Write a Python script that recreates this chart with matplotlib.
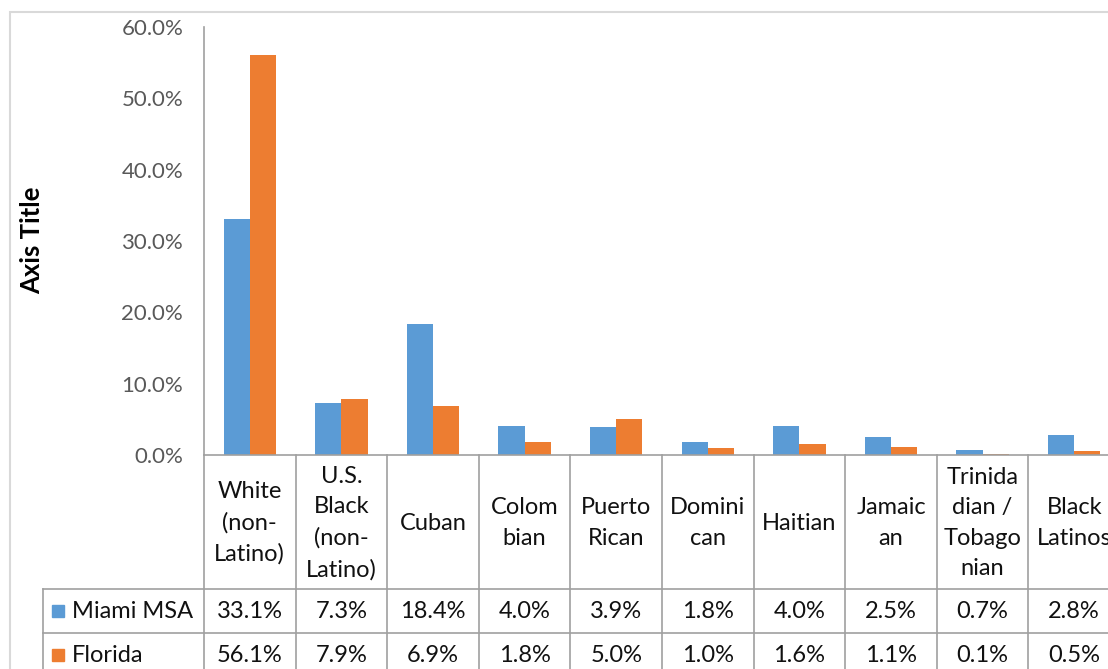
import numpy as np
import matplotlib
matplotlib.use("Agg")
import matplotlib.pyplot as plt
from matplotlib.patches import Rectangle

plt.rcParams['font.family'] = ['Lato', 'DejaVu Sans']

categories = ["White\n(non-\nLatino)", "U.S.\nBlack\n(non-\nLatino)", "Cuban", "Colom\nbian",
              "Puerto\nRican", "Domini\ncan", "Haitian", "Jamaic\nan",
              "Trinida\ndian /\nTobago\nnian", "Black\nLatinos"]
miami = [33.1, 7.3, 18.4, 4.0, 3.9, 1.8, 4.0, 2.5, 0.7, 2.8]
florida = [56.1, 7.9, 6.9, 1.8, 5.0, 1.0, 1.6, 1.1, 0.1, 0.5]
series_names = ["Miami MSA", "Florida"]
colors = ["#5B9BD5", "#ED7D31"]
y_ticks = [0, 10, 20, 30, 40, 50, 60]

W, H = 1108, 669
fig = plt.figure(figsize=(W / 100, H / 100), dpi=100)

def fx(px):
    return px / W

def fy(py):
    return 1 - py / H

# chart frame (cut off at right/bottom)
fig.add_artist(Rectangle((fx(10), fy(720)), 1200 / W, (720 - 12) / H,
                         transform=fig.transFigure, fill=False,
                         edgecolor="#D9D9D9", lw=1.5))

# plot area: 0% at y=455px, 60% at y=27px, categories 91.6px wide from x=204
ax = fig.add_axes([fx(204), fy(455), 916 / W, 428 / H])
ax.set_xlim(-0.5, 9.5)
ax.set_ylim(0, 60)

x = np.arange(len(categories))
w = 0.285
ax.bar(x - w / 2, miami, w, color=colors[0], label=series_names[0])
ax.bar(x + w / 2, florida, w, color=colors[1], label=series_names[1])

line_c = "#A0A0A0"
for s in ["top", "right"]:
    ax.spines[s].set_visible(False)
for s in ["left", "bottom"]:
    ax.spines[s].set_color(line_c)
    ax.spines[s].set_linewidth(1.2)
ax.set_yticks(y_ticks)
ax.set_yticklabels([f"{t:.1f}%" for t in y_ticks])
ax.tick_params(axis="y", length=0, pad=15, labelsize=16, labelcolor="#595959")
ax.set_xticks([])

fig.text(fx(32), fy(240), "Axis Title", rotation=90, fontsize=18.5,
         fontweight="bold", ha="center", va="center")

# data table below the axis
tr = ax.get_xaxis_transform()

def ay(py):
    return (455 - py) / 428

def dx(px):
    return (px - 204) / 91.6 - 0.5

bottom = ay(720)
for b in np.arange(-0.5, 10.5, 1.0):
    ax.plot([b, b], [0, bottom], transform=tr, clip_on=False, color=line_c, lw=1.2)
ax.plot([dx(43), dx(43)], [ay(589), bottom], transform=tr, clip_on=False, color=line_c, lw=1.2)
for py in [589, 633, 678]:
    ax.plot([dx(43), 10.5], [ay(py), ay(py)], transform=tr, clip_on=False, color=line_c, lw=1.2)

tsize = 17
for i, lab in enumerate(categories):
    ax.text(i, ay(523), lab, transform=tr, ha="center", va="center",
            multialignment="center", fontsize=tsize, linespacing=1.56, clip_on=False,
            color="#111111")

rows = [(miami, 611), (florida, 655)]
for k, (vals, py) in enumerate(rows):
    for i, v in enumerate(vals):
        ax.text(i, ay(py), f"{v:.1f}%", transform=tr, ha="center", va="center",
                fontsize=tsize, clip_on=False, color="#111111")
    ax.add_patch(Rectangle((dx(52), ay(py + 6)), dx(64) - dx(52), 12 / 428,
                           transform=tr, color=colors[k], clip_on=False))
    ax.text(dx(72), ay(py), series_names[k], transform=tr, ha="left", va="center",
            fontsize=tsize, clip_on=False, color="#111111")

fig.savefig("out.png", dpi=100)
